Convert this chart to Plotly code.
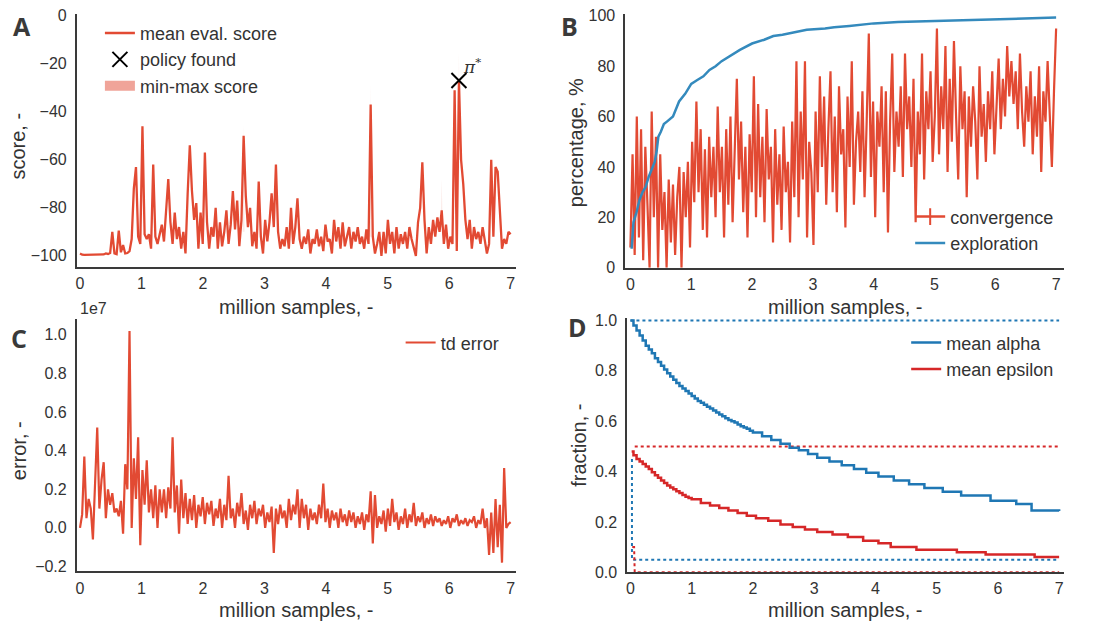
import numpy as np
import plotly.graph_objects as go

# ---------------- data ----------------
# Panel A: mean evaluation score (sampled every 0.035 million samples)
score_mean = [
    -99, -99.5, -99.6, -99.6, -99.6, -99.6, -99.6, -99.6, -99.6, -99.6,
    -99.6, -99.4, -99.0, -99.2, -98.8, -90, -99, -99.3, -89.5, -98.5,
    -95.5, -99, -98.8, -98, -93, -72, -63, -92, -95, -46,
    -91, -93, -91, -97, -62, -92, -95, -91, -87, -94,
    -80, -68, -86, -95, -82, -93, -88, -97, -90, -99,
    -74, -54, -73, -85, -78, -97, -82, -95, -57, -86,
    -97, -88, -92, -80, -97, -86, -96, -90, -81, -95,
    -87, -73, -89, -77, -96, -85, -50, -75, -88, -80,
    -96, -90, -97, -69, -92, -99, -85, -94, -86, -74,
    -88, -62, -90, -97, -93, -96, -88, -97, -80, -95,
    -88, -76, -93, -97, -92, -95, -89, -99, -93, -95,
    -89, -96, -92, -98, -87, -94, -93, -99, -85, -94,
    -88, -97, -86, -96, -92, -88, -97, -90, -94, -88,
    -95, -92, -97, -89, -95, -37, -92, -99, -95, -90,
    -100, -90, -99, -85, -95, -90, -99, -88, -97, -91,
    -95, -90, -97, -88, -93, -96, -100, -86, -80, -61,
    -85, -99, -88, -95, -85, -92, -84, -90, -81, -95,
    -87, -97, -92, -95, -31, -98, -27, -60, -70, -85,
    -93, -85, -97, -88, -93, -90, -95, -88, -93, -99,
    -95, -60, -92, -63, -65, -82, -97, -93, -95, -90, -91,
]
# faint min-max spikes visible above the mean
band_x = [2.66, 4.725, 5.88, 6.16]
band_base = [-90, -92, -88, -60]
band_top = [-45, -28, -68, -15]
policy_x = [6.16]
policy_y = [-27]

# Panel B: convergence (%) and exploration (%)
convergence = [
    8, 45, 5, 60, 12, 55, 3, 48, 25, 0,
    62, 20, 52, 0, 45, 15, 30, 0, 35, 10,
    33, 5, 28, 40, 0, 38, 20, 42, 8, 50,
    26, 66, 30, 55, 15, 47, 12, 52, 28, 48,
    20, 64, 30, 48, 12, 55, 25, 60, 18, 45,
    75, 35, 58, 22, 48, 12, 53, 30, 76, 20,
    65, 28, 52, 18, 63, 35, 48, 10, 55, 25,
    45, 15, 56, 30, 42, 10, 58, 28, 82, 20,
    62, 35, 82, 12, 50, 38, 9, 62, 30, 76,
    40, 68, 25, 55, 78, 30, 60, 22, 72, 45,
    55, 16, 68, 40, 82, 25, 50, 62, 38, 70,
    28, 58, 93, 36, 66, 20, 62, 48, 72, 30,
    70, 14, 58, 85, 38, 62, 48, 72, 36, 85,
    55, 68, 40, 75, 18, 62, 45, 85, 35, 70,
    55, 78, 42, 60, 95, 45, 72, 55, 88, 38,
    75, 50, 90, 60, 35, 80, 55, 70, 28, 68,
    48, 72, 58, 35, 80, 52, 65, 42, 70, 55,
    78, 45, 62, 83, 55, 75, 60, 88, 68, 82,
    65, 78, 55, 85, 62, 48, 72, 58, 78, 45,
    68, 52, 80, 38, 70, 58, 82, 62, 40, 70, 95,
]
explore_x = [0.02, 0.05, 0.1, 0.15, 0.2, 0.25, 0.3, 0.35, 0.4, 0.43, 0.46, 0.5, 0.55,
             0.6, 0.7, 0.75, 0.8, 0.9, 1.0, 1.1, 1.2, 1.3, 1.4, 1.5, 1.6, 1.7, 1.8,
             2.0, 2.2, 2.35, 2.5, 2.7, 2.9, 3.2, 3.35, 3.6, 3.8, 4.0, 4.4, 5.0, 6.0, 7.0]
exploration = [7.5, 18, 22, 27, 30, 32, 36, 39, 42, 46, 52, 54, 57,
               58, 60, 63, 66, 69, 73, 74.5, 76, 78.5, 80, 82, 83.5, 85, 86.5,
               89, 90.5, 92, 92.5, 93.5, 94.5, 95, 95.5, 96, 96.6, 97, 97.5, 97.9, 98.6, 99.3]

# Panel C: td error (units of 1e7)
td_error = [
    0.0, 0.07, 0.37, 0.05, 0.15, 0.1, -0.06, 0.2, 0.52, 0.1,
    0.25, 0.34, 0.05, 0.2, 0.12, 0.18, 0.08, 0.1, 0.06, 0.14,
    -0.03, 0.33, 0.2, 1.02, 0.0, 0.36, 0.15, 0.47, -0.09, 0.3,
    0.12, 0.35, 0.08, 0.2, 0.05, 0.22, 0.0, 0.2, 0.08, 0.2,
    0.05, 0.21, 0.1, 0.47, 0.08, 0.22, -0.03, 0.25, 0.05, 0.18,
    0.02, 0.15, 0.04, 0.17, 0.0, 0.12, 0.06, 0.16, 0.02, 0.13,
    0.07, 0.14, 0.01, 0.1, 0.05, 0.15, 0.0, 0.12, 0.04, 0.27,
    0.05, 0.1, 0.0, 0.13, 0.06, 0.18, 0.02, 0.09, -0.01, 0.12,
    0.05, 0.14, 0.02, 0.1, 0.06, 0.12, 0.0, 0.08, 0.03, 0.11,
    -0.13, 0.1, 0.02, 0.12, 0.05, 0.09, 0.0, 0.15, 0.04, 0.12,
    0.07, 0.2, 0.0, 0.15, 0.05, 0.12, -0.01, 0.1, 0.04, 0.08,
    0.02, 0.12, 0.05, 0.23, 0.03, 0.1, 0.0, 0.09, 0.04, 0.08,
    0.0, 0.1, 0.03, 0.07, 0.01, 0.09, 0.03, 0.08, 0.0, 0.06,
    0.02, 0.08, -0.01, 0.07, 0.03, 0.19, -0.08, 0.17, 0.0, 0.06,
    0.02, 0.09, -0.02, 0.1, 0.01, 0.15, 0.03, 0.08, -0.01, 0.06,
    0.02, 0.1, 0.0, 0.07, 0.03, 0.13, 0.01, 0.06, 0.03, 0.08,
    0.0, 0.05, 0.02, 0.07, 0.01, 0.06, 0.03, 0.05, 0.01, 0.04,
    0.02, 0.06, 0.0, 0.05, 0.03, 0.07, 0.01, 0.04, 0.02, 0.05,
    0.01, 0.04, 0.03, 0.06, 0.0, 0.04, 0.02, 0.1, 0.0, 0.05,
    -0.14, 0.08, -0.13, 0.15, -0.1, 0.12, -0.18, 0.31, 0.0, 0.02, 0.03,
]

# Panel D: mean alpha / mean epsilon and their min/max envelopes
alpha_x = [0, 0.05, 0.1, 0.15, 0.2, 0.25, 0.3, 0.35, 0.4, 0.45, 0.5, 0.55, 0.6, 0.65,
           0.7, 0.75, 0.8, 0.85, 0.9, 0.95, 1.0, 1.05, 1.1, 1.15, 1.2, 1.25, 1.3, 1.35,
           1.4, 1.45, 1.5, 1.55, 1.6, 1.65, 1.7, 1.75, 1.8, 1.85, 1.9, 1.95, 2.0,
           2.15, 2.3, 2.45, 2.6, 2.75, 2.9, 3.05, 3.25, 3.45, 3.65, 3.85, 4.05, 4.3,
           4.55, 4.8, 5.1, 5.4, 5.88, 6.3, 6.55, 7.0]
alpha_mean = [1.0, 0.98, 0.96, 0.94, 0.92, 0.90, 0.885, 0.87, 0.85, 0.835, 0.82, 0.805,
              0.79, 0.777, 0.765, 0.752, 0.74, 0.73, 0.72, 0.71, 0.70, 0.69, 0.68, 0.673,
              0.665, 0.657, 0.65, 0.642, 0.635, 0.627, 0.62, 0.612, 0.605, 0.60, 0.595,
              0.587, 0.58, 0.575, 0.57, 0.562, 0.555,
              0.54, 0.525, 0.51, 0.495, 0.485, 0.47, 0.455, 0.44, 0.425, 0.41, 0.395,
              0.38, 0.365, 0.35, 0.335, 0.32, 0.305, 0.284, 0.271, 0.245, 0.243]
eps_x = [0.02, 0.05, 0.1, 0.15, 0.2, 0.25, 0.3, 0.35, 0.4, 0.45, 0.5, 0.55, 0.6, 0.65,
         0.7, 0.75, 0.8, 0.85, 0.9, 0.95, 1.0, 1.15, 1.3, 1.45, 1.6, 1.75, 1.9, 2.05,
         2.25, 2.45, 2.65, 2.85, 3.05, 3.3, 3.55, 3.8, 4.05, 4.25, 4.67, 5.33, 5.8,
         6.6, 7.0]
eps_mean = [0.48, 0.465, 0.45, 0.44, 0.43, 0.42, 0.41, 0.397, 0.385, 0.375, 0.365, 0.355,
            0.345, 0.337, 0.33, 0.322, 0.315, 0.307, 0.30, 0.295, 0.29, 0.275, 0.265,
            0.255, 0.245, 0.235, 0.225, 0.215, 0.205, 0.19, 0.18, 0.17, 0.16, 0.15,
            0.14, 0.125, 0.115, 0.10, 0.09, 0.08, 0.071, 0.061, 0.061]
alpha_max_x, alpha_max_y = [0, 7], [1.0, 1.0]
alpha_min_x, alpha_min_y = [0.025, 0.025, 7], [0.45, 0.05, 0.05]
eps_max_x, eps_max_y = [0.07, 7], [0.5, 0.5]
eps_min_x, eps_min_y = [0.03, 0.06, 0.07, 7], [0.1, 0.1, 0.0, 0.0]

step = 0.035
xs_a = [round(i * step, 4) for i in range(len(score_mean))]
xs_b = [round(i * step, 4) for i in range(len(convergence))]
xs_c = [round(i * step, 4) for i in range(len(td_error))]

# ---------------- style ----------------
RED = "#E24A33"
BLUE = "#348ABD"
D_BLUE = "#1f77b4"
D_RED = "#d62728"
TXT = "#333333"
FONT = "Liberation Sans"
W, H = 1094, 635

fig = go.Figure()

# Panel A
fig.add_trace(go.Scatter(x=xs_a, y=score_mean, mode="lines", line=dict(color=RED, width=2.3),
                         name="mean eval. score", xaxis="x", yaxis="y", legend="legend"))
bx, by = [], []
for x0, b0, t0 in zip(band_x, band_base, band_top):
    bx += [x0 - 0.015, x0, x0 + 0.015, None]
    by += [b0, t0, b0, None]
fig.add_trace(go.Scatter(x=bx, y=by, mode="lines", fill="toself", line=dict(width=0),
                         fillcolor="rgba(226,74,51,0.12)", showlegend=False,
                         xaxis="x", yaxis="y", hoverinfo="skip"))
fig.add_trace(go.Scatter(x=policy_x, y=policy_y, mode="markers", name="policy found",
                         marker=dict(symbol="x-thin", size=15, color="black",
                                     line=dict(color="black", width=2)),
                         xaxis="x", yaxis="y", legend="legend"))
fig.add_trace(go.Scatter(x=[None], y=[None], mode="lines", name="min-max score",
                         line=dict(width=12, color="rgba(226,74,51,0.5)"),
                         xaxis="x", yaxis="y", legend="legend"))

# Panel B
fig.add_trace(go.Scatter(x=xs_b, y=convergence, mode="lines", line=dict(color=RED, width=2.2),
                         showlegend=False, xaxis="x2", yaxis="y2"))
fig.add_trace(go.Scatter(x=explore_x, y=exploration, mode="lines", line=dict(color=BLUE, width=2.5),
                         showlegend=False, xaxis="x2", yaxis="y2"))
fig.add_trace(go.Scatter(x=[None], y=[None], mode="lines+markers", name="convergence",
                         line=dict(color=RED, width=2.5),
                         marker=dict(symbol="line-ns", size=12, line=dict(color=RED, width=2)),
                         xaxis="x2", yaxis="y2", legend="legend2"))
fig.add_trace(go.Scatter(x=[None], y=[None], mode="lines", name="exploration",
                         line=dict(color=BLUE, width=2.5), xaxis="x2", yaxis="y2", legend="legend2"))

# Panel C
fig.add_trace(go.Scatter(x=xs_c, y=td_error, mode="lines", line=dict(color=RED, width=2.2),
                         name="td error", xaxis="x3", yaxis="y3", legend="legend3"))

# Panel D
dot = dict(dash="dot", width=2)
fig.add_trace(go.Scatter(x=alpha_max_x, y=alpha_max_y, mode="lines", line=dict(color=D_BLUE, **dot),
                         showlegend=False, xaxis="x4", yaxis="y4"))
fig.add_trace(go.Scatter(x=alpha_min_x, y=alpha_min_y, mode="lines", line=dict(color=D_BLUE, **dot),
                         showlegend=False, xaxis="x4", yaxis="y4"))
fig.add_trace(go.Scatter(x=eps_max_x, y=eps_max_y, mode="lines", line=dict(color=D_RED, **dot),
                         showlegend=False, xaxis="x4", yaxis="y4"))
fig.add_trace(go.Scatter(x=eps_min_x, y=eps_min_y, mode="lines", line=dict(color=D_RED, **dot),
                         showlegend=False, xaxis="x4", yaxis="y4"))
fig.add_trace(go.Scatter(x=alpha_x, y=alpha_mean, mode="lines", line=dict(color=D_BLUE, width=2.5, shape="hv"),
                         name="mean alpha", xaxis="x4", yaxis="y4", legend="legend4"))
fig.add_trace(go.Scatter(x=eps_x, y=eps_mean, mode="lines", line=dict(color=D_RED, width=2.5, shape="hv"),
                         name="mean epsilon", xaxis="x4", yaxis="y4", legend="legend4"))


def px_x(a, b):
    return [a / W, b / W]


def px_y(top, bottom):
    return [1 - bottom / H, 1 - top / H]


axis_common = dict(showline=True, linecolor="#3a3a3a", linewidth=2, showgrid=False, zeroline=False,
                   ticks="outside", ticklen=1, tickcolor="rgba(0,0,0,0)",
                   tickfont=dict(size=16, color=TXT, family=FONT), mirror=False)
yax_common = dict(axis_common, ticklen=5)
xt = dict(tickvals=[0, 1, 2, 3, 4, 5, 6, 7])

fig.update_layout(
    width=W, height=H, margin=dict(l=0, r=0, t=0, b=0),
    paper_bgcolor="white", plot_bgcolor="white",
    font=dict(family=FONT, color=TXT),
    xaxis=dict(domain=px_x(76, 515), range=[-0.05, 7.08], anchor="y", **xt, **axis_common),
    yaxis=dict(domain=px_y(8, 267), range=[-104.5, 0.8], anchor="x",
               tickvals=[0, -20, -40, -60, -80, -100], **yax_common),
    xaxis2=dict(domain=px_x(625, 1064), range=[-0.082, 7.13], anchor="y2", **xt, **axis_common),
    yaxis2=dict(domain=px_y(8, 268), range=[0, 100.8], anchor="x2",
                tickvals=[0, 20, 40, 60, 80, 100], **yax_common),
    xaxis3=dict(domain=px_x(76, 515), range=[-0.05, 7.08], anchor="y3", **xt, **axis_common),
    yaxis3=dict(domain=px_y(321, 579), range=[-0.225, 1.08], anchor="x3",
                tickvals=[-0.2, 0, 0.2, 0.4, 0.6, 0.8, 1.0], tickformat=".1f", **yax_common),
    xaxis4=dict(domain=px_x(627, 1064), range=[-0.049, 7.08], anchor="y4", **xt, **axis_common),
    yaxis4=dict(domain=px_y(320, 580), range=[0, 1.008], anchor="x4",
                tickvals=[0, 0.2, 0.4, 0.6, 0.8, 1.0], tickformat=".1f", **yax_common),
    showlegend=True,
)

leg_common = dict(bgcolor="rgba(0,0,0,0)", font=dict(size=18, color=TXT, family=FONT),
                  xanchor="left", yanchor="top", tracegroupgap=0, itemwidth=30)
fig.update_layout(
    legend=dict(x=99 / W, y=1 - 9 / H, **leg_common),
    legend2=dict(x=910 / W, y=1 - 197 / H, **leg_common),
    legend3=dict(x=400 / W, y=1 - 326 / H, **leg_common),
    legend4=dict(x=906 / W, y=1 - 326 / H, **leg_common),
)

ann = []
# panel letters
for t, x, y in [("A", 21, 20), ("B", 569, 20), ("C", 18, 340), ("D", 577, 329)]:
    ann.append(dict(text=f"<b>{t}</b>", x=x / W, y=1 - y / H, xref="paper", yref="paper",
                    showarrow=False, font=dict(size=25, color="#3a3a3a", family="Open Sans"),
                    xanchor="center", yanchor="middle"))
# x titles
for x, y in [(295, 308), (845, 308), (295, 619), (845, 619)]:
    ann.append(dict(text="million samples, -", x=x / W, y=1 - y / H, xref="paper", yref="paper",
                    showarrow=False, font=dict(size=20, color=TXT), xanchor="center", yanchor="middle"))
# y titles
for t, x, y in [("score, -", 17, 143), ("percentage, %", 575, 140),
                ("error, -", 18, 455), ("fraction, -", 579, 450)]:
    ann.append(dict(text=t, x=x / W, y=1 - y / H, xref="paper", yref="paper", textangle=-90,
                    showarrow=False, font=dict(size=20, color=TXT), xanchor="center", yanchor="middle"))
# offset label
ann.append(dict(text="1e7", x=77 / W, y=1 - 310 / H, xref="paper", yref="paper", showarrow=False,
                font=dict(size=16, color=TXT), xanchor="left", yanchor="middle"))
# pi star
ann.append(dict(text="<i>π</i><sup>*</sup>", x=6.2, y=-21, xref="x", yref="y", showarrow=False,
                font=dict(size=17, color=TXT, family="DejaVu Serif"), xanchor="left", yanchor="middle"))
fig.update_layout(annotations=ann)

fig.write_html("out.html")
